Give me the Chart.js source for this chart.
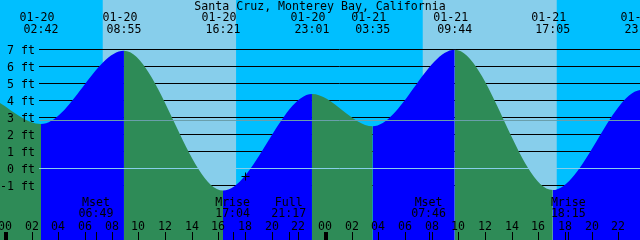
<!DOCTYPE html>
<html lang="en">
<head>
<meta charset="UTF-8">
<title>Santa Cruz, Monterey Bay tides</title>
<script src="https://cdn.jsdelivr.net/npm/chart.js"></script>
<style>
  body { margin: 0; background: #00BFFF; }
  .wrap { width: 640px; height: 240px; position: relative; }
</style>
</head>
<body>
<div class="wrap"><canvas id="tide"></canvas></div>
<script>
const chartTitle = 'Santa Cruz, Monterey Bay, California';

// hours counted from 01-20 00:00 (first and last two are just off the picture)
const tideHours = [-8.0, -2.0, 2.70, 8.92, 16.35, 23.02, 27.58, 33.73, 41.08, 47.77, 52.3];
const tideFeet  = [-1.2, 4.30, 2.59, 6.90, -1.33, 4.35, 2.45, 6.95, -1.30, 4.60, 2.3];
const tideDates = ['', '', '01-20', '01-20', '01-20', '01-20', '01-21', '01-21', '01-21', '01-21', ''];
const tideTimes = ['', '', '02:42', '08:55', '16:21', '23:01', '03:35', '09:44', '17:05', '23:46', ''];

const sunriseHours = [7.33, 31.33];
const sunsetHours  = [17.33, 41.38];

const moonHours = [6.82, 17.07, 21.28, 31.77, 42.25];
const moonNames = ['Mset', 'Mrise', 'Full', 'Mset', 'Mrise'];
const moonTimes = ['06:49', '17:04', '21:17', '07:46', '18:15'];

const levelTicks = [7, 6, 5, 4, 3, 2, 1, 0, -1];
const hourTicks = [0, 2, 4, 6, 8, 10, 12, 14, 16, 18, 20, 22, 24, 26, 28, 30, 32, 34, 36, 38, 40, 42, 44, 46];
const mslFeet = 2.8;
const nowHour = 18.04;
const nowFeet = -0.5;

const DAY = '#87CEEB', NIGHT = '#00BFFF', RISE = '#0000FF', FALL = '#2E8B57';
const FONT = '11.6px "DejaVu Sans Mono", "Liberation Mono", monospace';

const tidePlugin = {
    id: 'tideDecor',
    beforeDatasetsDraw(chart) {
        const c = chart.ctx, xs = chart.scales.x, ys = chart.scales.y, a = chart.chartArea;
        c.save();
        c.fillStyle = NIGHT;
        c.fillRect(a.left, a.top, a.right - a.left, a.bottom - a.top);
        c.fillStyle = DAY;
        for (let i = 0; i < sunriseHours.length; i++) {
            const x0 = xs.getPixelForValue(sunriseHours[i]);
            const x1 = xs.getPixelForValue(sunsetHours[i]);
            c.fillRect(x0, a.top, x1 - x0, a.bottom - a.top);
        }
        // foot lines (under the water)
        c.strokeStyle = '#000';
        c.lineWidth = 1;
        levelTicks.forEach(f => {
            const y = Math.round(ys.getPixelForValue(f)) + 0.5;
            c.beginPath(); c.moveTo(39, y); c.lineTo(a.right, y); c.stroke();
        });
        c.restore();
    },
    afterDatasetsDraw(chart) {
        const c = chart.ctx, xs = chart.scales.x, ys = chart.scales.y, a = chart.chartArea;
        c.save();
        // datum and mean sea level lines
        let y = Math.round(ys.getPixelForValue(0)) + 0.5;
        c.strokeStyle = DAY; c.lineWidth = 1;
        c.beginPath(); c.moveTo(39, y); c.lineTo(a.right, y); c.stroke();
        y = Math.round(ys.getPixelForValue(mslFeet)) + 0.5;
        c.strokeStyle = '#6a9fab';
        c.beginPath(); c.moveTo(39, y); c.lineTo(a.right, y); c.stroke();

        c.fillStyle = '#000';
        c.font = FONT;
        c.textBaseline = 'alphabetic';
        c.textAlign = 'center';
        c.fillText(chartTitle, 320, 10);

        tideHours.forEach((h, i) => {
            if (!tideTimes[i]) return;
            const x = xs.getPixelForValue(h);
            c.fillText(tideDates[i], x - 4, 21);
            c.fillText(tideTimes[i], x, 33);
        });

        c.textAlign = 'right';
        levelTicks.forEach(f => {
            c.fillText(f + ' ft', 35, ys.getPixelForValue(f) + 4.5);
        });

        c.textAlign = 'center';
        moonHours.forEach((h, i) => {
            const x = xs.getPixelForValue(h);
            c.fillText(moonNames[i], x, 206);
            c.fillText(moonTimes[i], x, 217);
        });

        c.strokeStyle = '#000';
        hourTicks.forEach(h => {
            const x = Math.round(xs.getPixelForValue(h));
            c.fillText(String(h % 24).padStart(2, '0'), x, 230);
            c.lineWidth = h % 24 === 0 ? 4 : 1;
            const px = h % 24 === 0 ? x + 1 : x + 0.5;
            c.beginPath(); c.moveTo(px, 232); c.lineTo(px, 240); c.stroke();
        });
        c.lineWidth = 1;
        moonHours.forEach(h => {
            const x = Math.round(xs.getPixelForValue(h)) + 0.5;
            c.beginPath(); c.moveTo(x, 232); c.lineTo(x, 240); c.stroke();
        });
        c.restore();
    }
};

const ctx = document.getElementById('tide').getContext('2d');
new Chart(ctx, {
    type: 'line',
    data: {
        datasets: [{
            data: tideHours.map((h, i) => ({ x: h, y: tideFeet[i] })),
            fill: 'start',
            cubicInterpolationMode: 'monotone',
            borderWidth: 1,
            borderColor: 'rgba(0,0,0,0)',
            backgroundColor: FALL,
            pointRadius: 0,
            order: 1,
            segment: {
                backgroundColor: s => s.p1.parsed.y > s.p0.parsed.y ? RISE : FALL
            }
        }, {
            // "now" mark
            data: [{ x: nowHour, y: nowFeet }],
            showLine: false,
            pointStyle: 'cross',
            pointRadius: 4,
            borderColor: '#000',
            borderWidth: 1,
            backgroundColor: '#000',
            order: 0
        }]
    },
    options: {
        responsive: true,
        maintainAspectRatio: false,
        animation: false,
        events: [],
        layout: { padding: 0, autoPadding: false },
        plugins: { legend: { display: false }, tooltip: { enabled: false } },
        scales: {
            x: { type: 'linear', min: -0.375, max: 47.625, display: false },
            y: { min: -4.2353, max: 9.8824, display: false }
        }
    },
    plugins: [tidePlugin]
});
</script>
</body>
</html>
